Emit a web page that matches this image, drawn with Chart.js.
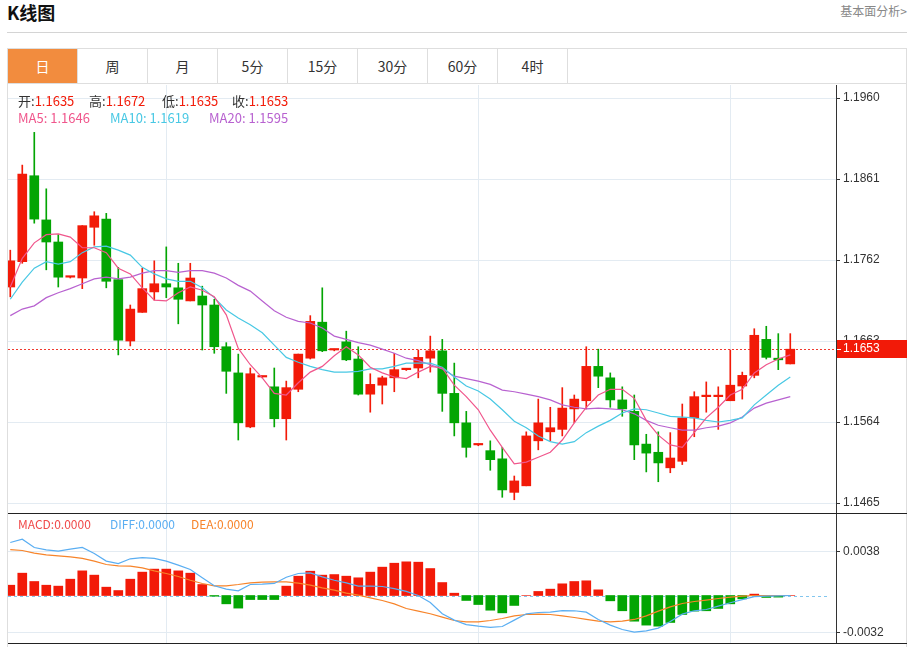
<!DOCTYPE html>
<html>
<head>
<meta charset="utf-8">
<title>K线图</title>
<script src="https://cdn.jsdelivr.net/npm/chart.js@4.4.1/dist/chart.umd.min.js"></script>
<style>
    body { margin: 0; background: #fff; font-family: "Noto Sans CJK SC", "Liberation Sans", sans-serif; }
    #page { position: relative; width: 912px; height: 647px; overflow: hidden; }
    .title { position: absolute; left: 7px; top: 0; line-height: 24px; font-size: 18px; font-weight: bold; color: #111; }
    .more { position: absolute; right: 5px; top: 3px; line-height: 16px; font-size: 12px; color: #888; }
    .hr { position: absolute; left: 7px; top: 32px; width: 900px; height: 1px; background: #d4d4d4; }
    .box { position: absolute; left: 7px; top: 48px; width: 900px; height: 600px; border: 1px solid #dedede; border-bottom: none; box-sizing: border-box; }
    .tabbar { position: absolute; left: 8px; top: 49px; width: 899px; height: 35px; border-bottom: 1px solid #dedede; box-sizing: border-box; }
    .tab { position: absolute; top: 0; width: 70px; height: 34px; line-height: 34px; text-align: center; font-size: 14px; color: #333; border-right: 1px solid #dedede; box-sizing: border-box; }
    .tab.on { background: #f28c3e; color: #fff; }
    .wrap { position: absolute; left: 8px; }
    .sep { position: absolute; left: 8px; width: 899px; height: 1px; background: #222; }
    .lbl { position: absolute; white-space: nowrap; line-height: 16px; }
</style>
</head>
<body>
<div id="page">
    <div class="title">K线图</div>
    <div class="more">基本面分析&gt;</div>
    <div class="hr"></div>
    <div class="box"></div>
    <div class="tabbar" id="tabbar"></div>

    <div class="wrap" style="top:85px;width:899px;height:428px;"><canvas id="mainChart" width="899" height="428"></canvas></div>
    <div class="sep" style="top:513px;"></div>
    <div class="wrap" style="top:514px;width:899px;height:129px;"><canvas id="macdChart" width="899" height="129"></canvas></div>
    <div class="sep" style="top:643px;"></div>

    <div id="ohlcText"></div>
    <div id="macdText"></div>
</div>

<script>
// ========== Data ==========

const tabs = ['日', '周', '月', '5分', '15分', '30分', '60分', '4时'];

const opens = [
    1.1729, 1.1760, 1.1865, 1.1811, 1.1784, 1.1741, 1.1740, 1.1802, 1.1812, 1.1738,
    1.1663, 1.1698, 1.1723, 1.1733, 1.1728, 1.1712, 1.1718, 1.1707, 1.1656, 1.1624,
    1.1558, 1.1619, 1.1607, 1.1568, 1.1604, 1.1642, 1.1686, 1.1652, 1.1662, 1.1641,
    1.1598, 1.1609, 1.1618, 1.1628, 1.1630, 1.1642, 1.1651, 1.1599, 1.1563, 1.1536,
    1.1529, 1.1519, 1.1478, 1.1486, 1.1541, 1.1552, 1.1555, 1.1580, 1.1590, 1.1632,
    1.1618, 1.1591, 1.1577, 1.1537, 1.1527, 1.1508, 1.1516, 1.1569, 1.1595, 1.1595,
    1.1590, 1.1608, 1.1621, 1.1665, 1.1642, 1.1635
];
const highs = [
    1.1774, 1.1878, 1.1918, 1.1849, 1.1793, 1.1742, 1.1804, 1.1821, 1.1819, 1.1753,
    1.1707, 1.1752, 1.1761, 1.1778, 1.1758, 1.1758, 1.1730, 1.1714, 1.1661, 1.1647,
    1.1630, 1.1620, 1.1630, 1.1614, 1.1647, 1.1694, 1.1728, 1.1653, 1.1675, 1.1656,
    1.1623, 1.1620, 1.1648, 1.1629, 1.1652, 1.1669, 1.1665, 1.1636, 1.1577, 1.1537,
    1.1541, 1.1533, 1.1498, 1.1552, 1.1592, 1.1582, 1.1606, 1.1597, 1.1656, 1.1653,
    1.1624, 1.1607, 1.1597, 1.1549, 1.1552, 1.1551, 1.1586, 1.1601, 1.1613, 1.1607,
    1.1652, 1.1625, 1.1678, 1.1681, 1.1672, 1.1672
];
const lows = [
    1.1717, 1.1758, 1.1807, 1.1750, 1.1729, 1.1740, 1.1727, 1.1780, 1.1728, 1.1646,
    1.1657, 1.1698, 1.1713, 1.1716, 1.1684, 1.1712, 1.1652, 1.1648, 1.1599, 1.1542,
    1.1557, 1.1618, 1.1558, 1.1542, 1.1601, 1.1641, 1.1650, 1.1651, 1.1639, 1.1597,
    1.1576, 1.1586, 1.1601, 1.1627, 1.1618, 1.1625, 1.1577, 1.1547, 1.1521, 1.1535,
    1.1505, 1.1472, 1.1469, 1.1486, 1.1530, 1.1541, 1.1547, 1.1563, 1.1580, 1.1606,
    1.1582, 1.1571, 1.1518, 1.1503, 1.1491, 1.1502, 1.1512, 1.1546, 1.1576, 1.1555,
    1.1590, 1.1592, 1.1618, 1.1641, 1.1628, 1.1635
];
const closes = [
    1.1761, 1.1867, 1.1812, 1.1784, 1.1741, 1.1741, 1.1804, 1.1816, 1.1736, 1.1664,
    1.1702, 1.1727, 1.1733, 1.1729, 1.1714, 1.1740, 1.1707, 1.1656, 1.1626, 1.1563,
    1.1623, 1.1619, 1.1568, 1.1606, 1.1647, 1.1687, 1.1651, 1.1652, 1.1640, 1.1598,
    1.1610, 1.1618, 1.1628, 1.1628, 1.1643, 1.1651, 1.1599, 1.1563, 1.1533, 1.1536,
    1.1518, 1.1481, 1.1492, 1.1547, 1.1563, 1.1557, 1.1581, 1.1592, 1.1632, 1.1620,
    1.1591, 1.1580, 1.1536, 1.1526, 1.1514, 1.1520, 1.1569, 1.1595, 1.1595, 1.1595,
    1.1609, 1.1621, 1.1670, 1.1643, 1.1640, 1.1653
];

const ma5 = [
    1.1729, 1.1764, 1.1783, 1.1793, 1.1794, 1.1790, 1.1777, 1.1777, 1.1771, 1.1752,
    1.1745, 1.1728, 1.1713, 1.1712, 1.1722, 1.1729, 1.1725, 1.1717, 1.1695, 1.1654,
    1.1634, 1.1618, 1.1599, 1.1597, 1.1612, 1.1625, 1.1632, 1.1645, 1.1656, 1.1646,
    1.1631, 1.1624, 1.1619, 1.1617, 1.1625, 1.1632, 1.1630, 1.1609, 1.1595, 1.1579,
    1.1554, 1.1533, 1.1513, 1.1515, 1.1521, 1.1527, 1.1542, 1.1563, 1.1582, 1.1597,
    1.1604, 1.1604, 1.1593, 1.1566, 1.1548, 1.1536, 1.1533, 1.1551, 1.1569, 1.1582,
    1.1597, 1.1604, 1.1624, 1.1634, 1.1641, 1.1646
];
const ma10 = [
    1.1714, 1.1735, 1.1752, 1.1760, 1.1757, 1.1760, 1.1771, 1.1778, 1.1779, 1.1774,
    1.1768, 1.1753, 1.1745, 1.1739, 1.1736, 1.1736, 1.1728, 1.1716, 1.1701, 1.1691,
    1.1683, 1.1673, 1.1658, 1.1643, 1.1637, 1.1632, 1.1628, 1.1625, 1.1625, 1.1626,
    1.1629, 1.1629, 1.1632, 1.1636, 1.1636, 1.1636, 1.1631, 1.1619, 1.1608, 1.1602,
    1.1592, 1.1579, 1.1565, 1.1557, 1.1547, 1.1540, 1.1537, 1.1540, 1.1551, 1.1559,
    1.1566, 1.1575, 1.1580, 1.1579, 1.1575, 1.1571, 1.1570, 1.1569, 1.1566, 1.1564,
    1.1566, 1.1569, 1.1585, 1.1597, 1.1609, 1.1619
];
const ma20 = [
    1.1694, 1.1702, 1.1706, 1.1716, 1.1722, 1.1727, 1.1733, 1.1739, 1.1741, 1.1739,
    1.1741, 1.1746, 1.1749, 1.1749, 1.1747, 1.1749, 1.1749, 1.1746, 1.1740, 1.1731,
    1.1724, 1.1712, 1.1700, 1.1692, 1.1687, 1.1685, 1.1679, 1.1669, 1.1665, 1.1661,
    1.1658, 1.1653, 1.1648, 1.1642, 1.1639, 1.1634, 1.1629, 1.1620, 1.1617, 1.1614,
    1.1610, 1.1603, 1.1601, 1.1598, 1.1595, 1.1591, 1.1585, 1.1582, 1.1580, 1.1581,
    1.1580, 1.1579, 1.1574, 1.1566, 1.1560, 1.1557, 1.1554, 1.1554, 1.1557, 1.1559,
    1.1563, 1.1570, 1.1581, 1.1587, 1.1591, 1.1595
];

const macdHist = [
    0.00089, 0.00193, 0.00121, 0.00089, 0.00081, 0.00141, 0.00213, 0.00176, 0.00072, 0.00043,
    0.00141, 0.00202, 0.00228, 0.00228, 0.00213, 0.00193, 0.00095, -0.00006, -0.00072, -0.00109,
    -0.00035, -0.00035, -0.00035, 0.00081, 0.00167, 0.00210, 0.00176, 0.00181, 0.00167, 0.00153,
    0.00202, 0.00245, 0.00279, 0.00291, 0.00288, 0.00233, 0.00112, 0.00020, -0.00043, -0.00078,
    -0.00127, -0.00150, -0.00086, 0.00000, 0.00035, 0.00055, 0.00101, 0.00121, 0.00127, 0.00049,
    -0.00046, -0.00132, -0.00222, -0.00256, -0.00265, -0.00233, -0.00164, -0.00135, -0.00132, -0.00112,
    -0.00072, -0.00029, 0.00012, -0.00017, -0.00014, 0.00000
];
const diffLine = [
    0.00458, 0.00487, 0.00415, 0.00395, 0.00383, 0.00400, 0.00415, 0.00363, 0.00297, 0.00276,
    0.00317, 0.00328, 0.00320, 0.00297, 0.00262, 0.00225, 0.00153, 0.00084, 0.00055, 0.00040,
    0.00095, 0.00098, 0.00104, 0.00158, 0.00190, 0.00196, 0.00161, 0.00132, 0.00109, 0.00081,
    0.00081, 0.00078, 0.00060, 0.00035, 0.00000, -0.00060, -0.00158, -0.00213, -0.00251, -0.00265,
    -0.00276, -0.00268, -0.00213, -0.00158, -0.00147, -0.00144, -0.00130, -0.00132, -0.00144, -0.00207,
    -0.00256, -0.00294, -0.00317, -0.00305, -0.00282, -0.00225, -0.00161, -0.00132, -0.00121, -0.00092,
    -0.00063, -0.00035, -0.00009, -0.00006, -0.00003, 0.00000
];
const deaLine = [
    0.00397, 0.00389, 0.00366, 0.00351, 0.00343, 0.00334, 0.00320, 0.00297, 0.00268, 0.00256,
    0.00253, 0.00239, 0.00213, 0.00190, 0.00164, 0.00132, 0.00104, 0.00084, 0.00084, 0.00095,
    0.00109, 0.00115, 0.00118, 0.00118, 0.00107, 0.00089, 0.00066, 0.00046, 0.00020, 0.00003,
    -0.00020, -0.00043, -0.00072, -0.00112, -0.00135, -0.00158, -0.00187, -0.00216, -0.00228, -0.00228,
    -0.00216, -0.00199, -0.00176, -0.00164, -0.00161, -0.00164, -0.00176, -0.00190, -0.00207, -0.00222,
    -0.00228, -0.00222, -0.00207, -0.00176, -0.00135, -0.00098, -0.00069, -0.00052, -0.00040, -0.00026,
    -0.00014, -0.00006, 0.00000, 0.00000, 0.00000, 0.00000
];

const priceTicks = [1.1465, 1.1564, 1.1663, 1.1762, 1.1861, 1.1960];
const macdTicks = [-0.0032, 0.0038];
const monthStarts = [13, 39, 60];

// ========== Colours ==========

const UP = '#f21a08';
const DOWN = '#03a503';
const C_MA5 = '#f0568c';
const C_MA10 = '#48c8e4';
const C_MA20 = '#b862d0';
const C_DIFF = '#5aaef2';
const C_DEA = '#f7842a';
const GRID = '#e3ebf2';

Chart.defaults.font.family = '"Liberation Sans", Arial, sans-serif';
Chart.defaults.font.size = 12;
Chart.defaults.color = '#333';

// ========== Helpers ==========

function candleColor(i) {
    return closes[i] >= opens[i] ? UP : DOWN;
}

function addText(parent, left, top, parts, size) {
    const row = document.createElement('div');
    row.className = 'lbl';
    row.style.left = left + 'px';
    row.style.top = top + 'px';
    row.style.fontSize = size + 'px';
    parts.forEach(p => {
        const s = document.createElement('span');
        s.textContent = p[0];
        s.style.color = p[1];
        row.appendChild(s);
    });
    parent.appendChild(row);
}

function buildTabs() {
    const bar = document.getElementById('tabbar');
    tabs.forEach((t, i) => {
        const d = document.createElement('div');
        d.className = 'tab' + (i === 0 ? ' on' : '');
        d.style.left = (i * 70) + 'px';
        d.textContent = t;
        bar.appendChild(d);
    });
}

function buildLabels() {
    const last = closes.length - 1;
    const f = v => v.toFixed(4);
    const top = document.getElementById('ohlcText');
    addText(top, 18, 93, [['开:', '#333'], [f(opens[last]), UP]], 13);
    addText(top, 89, 93, [['高:', '#333'], [f(highs[last]), UP]], 13);
    addText(top, 162, 93, [['低:', '#333'], [f(lows[last]), UP]], 13);
    addText(top, 232, 93, [['收:', '#333'], [f(closes[last]), UP]], 13);
    addText(top, 18, 110, [['MA5: ' + f(ma5[last]), C_MA5]], 13);
    addText(top, 110, 110, [['MA10: ' + f(ma10[last]), C_MA10]], 13);
    addText(top, 209, 110, [['MA20: ' + f(ma20[last]), C_MA20]], 13);

    const m = document.getElementById('macdText');
    addText(m, 18, 516, [['MACD:0.0000', '#f04a4a']], 12);
    addText(m, 110, 516, [['DIFF:0.0000', C_DIFF]], 12);
    addText(m, 191, 516, [['DEA:0.0000', C_DEA]], 12);
}

// shared x axis: index 0 sits 2.3px inside the plot, 12px per day
const X_MIN = -0.19;
const X_MAX = 68.81;

function xAxis() {
    return {
        type: 'linear',
        min: X_MIN,
        max: X_MAX,
        offset: false,
        afterBuildTicks: s => { s.ticks = monthStarts.map(v => ({ value: v })); },
        afterFit: s => { s.height = 0; s.paddingLeft = 0; s.paddingRight = 0; },
        grid: { color: GRID, drawTicks: false, offset: false },
        border: { display: false },
        ticks: { display: false }
    };
}

function yAxis(min, max, ticks) {
    return {
        position: 'right',
        min: min,
        max: max,
        afterBuildTicks: s => { s.ticks = ticks.map(v => ({ value: v })); },
        // fixed width, and no extra room for half a label at the ends
        afterFit: s => { s.width = 71; s.paddingTop = 0; s.paddingBottom = 0; },
        grid: { color: GRID, tickColor: '#333', tickLength: 4 },
        border: { display: true, color: '#333' },
        ticks: { padding: 3, color: '#333', callback: v => v.toFixed(4) }
    };
}

function lineSet(values, color, order) {
    return {
        type: 'line',
        data: values.map((v, i) => ({ x: i, y: v })),
        borderColor: color,
        borderWidth: 1.2,
        pointRadius: 0,
        tension: 0,
        order: order
    };
}

// ========== Plugins ==========

const lastPricePlugin = {
    id: 'lastPrice',
    beforeDatasetsDraw(chart) {
        const ctx = chart.ctx;
        const y = Math.round(chart.scales.y.getPixelForValue(closes[closes.length - 1])) + 0.5;
        ctx.save();
        ctx.strokeStyle = '#f03a30';
        ctx.lineWidth = 1;
        ctx.setLineDash([2, 2]);
        ctx.beginPath();
        ctx.moveTo(chart.chartArea.left, y);
        ctx.lineTo(chart.chartArea.right, y);
        ctx.stroke();
        ctx.restore();
    },
    afterDraw(chart) {
        const ctx = chart.ctx;
        const scale = chart.scales.y;
        const price = closes[closes.length - 1];
        const y = Math.round(scale.getPixelForValue(price));
        const x0 = chart.chartArea.right + 1;
        ctx.save();
        ctx.fillStyle = UP;
        ctx.fillRect(x0, y - 9, chart.width - x0, 18);
        ctx.strokeStyle = '#fff';
        ctx.beginPath();
        ctx.moveTo(x0, y + 0.5);
        ctx.lineTo(x0 + 4, y + 0.5);
        ctx.stroke();
        ctx.fillStyle = '#fff';
        ctx.font = '12px "Liberation Sans", Arial, sans-serif';
        ctx.textBaseline = 'middle';
        ctx.fillText(price.toFixed(4), x0 + 6, y);
        ctx.restore();
    }
};

const zeroLinePlugin = {
    id: 'zeroLine',
    beforeDatasetsDraw(chart) {
        const ctx = chart.ctx;
        const y = Math.round(chart.scales.y.getPixelForValue(0)) + 0.5;
        ctx.save();
        ctx.strokeStyle = '#82c6ee';
        ctx.lineWidth = 1;
        ctx.setLineDash([3, 3]);
        ctx.beginPath();
        ctx.moveTo(chart.chartArea.left, y);
        ctx.lineTo(chart.chartArea.right - 6, y);
        ctx.stroke();
        ctx.restore();
    }
};

// ========== Charts ==========

function initMainChart() {
    const colors = closes.map((c, i) => candleColor(i));
    new Chart(document.getElementById('mainChart'), {
        type: 'bar',
        data: {
            datasets: [
                lineSet(ma5, C_MA5, 0),
                lineSet(ma10, C_MA10, 0),
                lineSet(ma20, C_MA20, 0),
                {
                    type: 'bar',
                    data: opens.map((o, i) => ({ x: i, y: [o, closes[i]] })),
                    backgroundColor: colors,
                    barThickness: 9,
                    minBarLength: 1.5,
                    grouped: false,
                    order: 1
                },
                {
                    type: 'bar',
                    data: lows.map((l, i) => ({ x: i, y: [l, highs[i]] })),
                    backgroundColor: colors,
                    barThickness: 1,
                    minBarLength: 1,
                    grouped: false,
                    order: 2
                }
            ]
        },
        options: {
            responsive: false,
            animation: false,
            layout: { padding: 0 },
            plugins: { legend: { display: false }, tooltip: { enabled: false } },
            scales: {
                x: xAxis(),
                y: yAxis(1.145279, 1.197589, priceTicks)
            }
        },
        plugins: [lastPricePlugin]
    });
}

function initMacdChart() {
    new Chart(document.getElementById('macdChart'), {
        type: 'bar',
        data: {
            datasets: [
                lineSet(diffLine, C_DIFF, 0),
                lineSet(deaLine, C_DEA, 0),
                {
                    type: 'bar',
                    data: macdHist.map((v, i) => ({ x: i, y: v })),
                    backgroundColor: macdHist.map(v => v >= 0 ? UP : DOWN),
                    barThickness: 9,
                    grouped: false,
                    order: 1
                }
            ]
        },
        options: {
            responsive: false,
            animation: false,
            layout: { padding: 0 },
            plugins: { legend: { display: false }, tooltip: { enabled: false } },
            scales: {
                x: xAxis(),
                y: yAxis(-0.004104, 0.007042, macdTicks)
            }
        },
        plugins: [zeroLinePlugin]
    });
}

buildTabs();
buildLabels();
initMainChart();
initMacdChart();
</script>
</body>
</html>
